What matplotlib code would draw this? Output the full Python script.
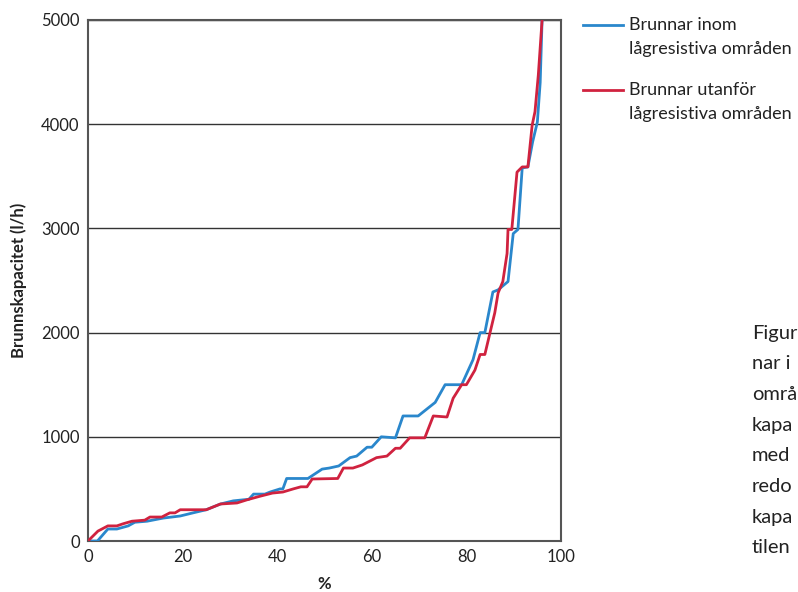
import matplotlib
matplotlib.use("Agg")
import matplotlib.pyplot as plt
from matplotlib.lines import Line2D

plt.rcParams['font.family'] = ['Lato', 'DejaVu Sans']

# Data
inom_x = [0, 2, 4.2, 6.1, 8.5, 9.9, 12.5, 15.9, 19.5, 22.2, 25, 28, 30.7, 32.8, 34,
          35, 37.4, 38.5, 40.6, 41.2, 42, 46.5, 49.5, 51, 53, 55.4, 56.8, 59, 60,
          62, 65, 66.6, 69.8, 73.4, 75.5, 79, 81.4, 82.9, 83.9, 85.6, 86.7, 88.8,
          89.9, 90.9, 91.8, 93, 94, 95, 95.6, 96]
inom_y = [0, 0, 115, 115, 145, 180, 190, 220, 240, 270, 300, 355, 385, 395, 400,
          450, 450, 470, 500, 500, 600, 600, 690, 700, 720, 800, 815, 900, 900,
          1000, 990, 1200, 1200, 1330, 1500, 1500, 1740, 2000, 2000, 2390, 2410, 2490,
          2950, 2990, 3580, 3590, 3830, 4020, 4400, 5000]

utanfor_x = [0, 2.1, 4.2, 6.1, 7.4, 9.3, 12, 13.1, 15.6, 17.3, 18.4, 19.5, 25, 28,
             31.5, 33.6, 36.4, 39, 41.2, 43.4, 45, 46.3, 47.4, 52.8, 54, 56, 58, 61,
             63.2, 65, 66, 68, 71.2, 73, 75.9, 77.2, 79, 80, 81.8, 82.9, 83.9, 85, 86,
             86.7, 87.7, 88.6, 88.8, 89.6, 90.7, 91.8, 93, 93.9, 94.5, 95.2, 96]
utanfor_y = [0, 95, 145, 145, 165, 190, 200, 230, 230, 270, 270, 300, 300, 355,
             365, 395, 430, 460, 470, 500, 520, 520, 595, 600, 700, 700, 730, 800,
             815, 890, 890, 990, 990, 1200, 1190, 1370, 1500, 1500, 1640, 1790, 1790, 2000, 2190,
             2380, 2490, 2760, 2990, 2990, 3540, 3590, 3590, 3990, 4120, 4470, 5000]

x_ticks = [0, 20, 40, 60, 80, 100]
y_ticks = [0, 1000, 2000, 3000, 4000, 5000]
legend_labels = ["Brunnar inom\nlågresistiva områden", "Brunnar utanför\nlågresistiva områden"]
caption_lines = ["Figur", "nar i", "områ", "kapa", "med", "redo", "kapa", "tilen"]

blue = '#2a87cc'
red = '#d0223f'

fig = plt.figure(figsize=(7.98, 5.92), dpi=100)
ax = fig.add_axes([88/798, 1-541/592, (561-88)/798, (541-20)/592])

ax.plot(inom_x, inom_y, color=blue, lw=2.0, solid_joinstyle='round', zorder=3)
ax.plot(utanfor_x, utanfor_y, color=red, lw=2.0, solid_joinstyle='round', zorder=4)

ax.set_xlim(0, 100)
ax.set_ylim(0, 5000)
ax.set_xticks(x_ticks)
ax.set_yticks(y_ticks)
ax.tick_params(length=0, labelsize=12, colors='#222222', pad=6)
for s in ax.spines.values():
    s.set_color('#555555')
    s.set_linewidth(1.5)
ax.yaxis.grid(True, color='#333333', lw=1.0)
ax.set_axisbelow(True)

ax.set_xlabel('%', fontsize=12, fontweight='bold', color='#222222', labelpad=8)
ax.set_ylabel('Brunnskapacitet (l/h)', fontsize=12, fontweight='bold', color='#222222', labelpad=10)

# Legend
for i, (lab, col) in enumerate(zip(legend_labels, [blue, red])):
    ytop = 25 + i * 65
    fig.add_artist(Line2D([583/798, 623/798], [1-ytop/592, 1-ytop/592], color=col, lw=2.0))
    fig.text(629/798, 1-(ytop-8)/592, lab, fontsize=13, color='#222222',
             va='top', ha='left', linespacing=1.6)

# Caption (only the part visible in the reference)
for i, line in enumerate(caption_lines):
    fig.text(752/798, 1-(333 + i*30.7)/592, line, fontsize=14.5, color='#222222',
             va='center', ha='left')

fig.savefig('out.png', dpi=100)
